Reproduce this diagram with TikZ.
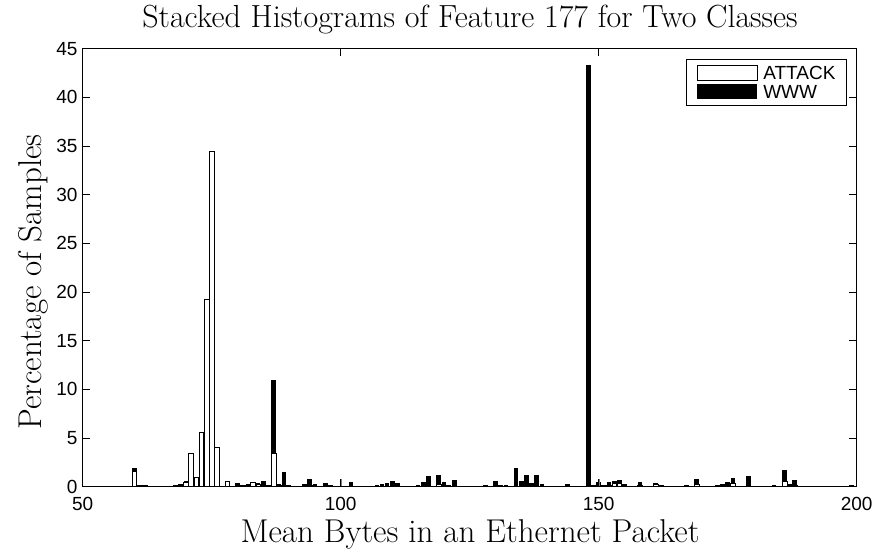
\documentclass[tikz,border=0pt]{standalone}
\usepackage{fontspec}
\newfontfamily\ticksf{Liberation Sans}
\usepackage{tikz}

\begin{document}
\begin{tikzpicture}[x=1pt, y=1pt, line width=.6]
    \useasboundingbox (0,0) rectangle (875,554);
    \tikzset{
        ticklab/.style={font=\ticksf\fontsize{19}{19}\selectfont, inner sep=0pt},
        axlab/.style={font=\fontsize{33}{33}\selectfont, inner sep=0pt},
        attackbar/.style={draw=black, fill=white, line width=.5},
        wwwbar/.style={fill=black}
    }
    % title and axis labels
    \node[axlab, font=\fontsize{32}{32}\selectfont, anchor=base] (title) at (470,526) {Stacked Histograms of Feature 177 for Two Classes};
    \node[axlab, anchor=base] (xlab) at (470,12) {Mean Bytes in an Ethernet Packet};
    \node[axlab, rotate=90, anchor=base] (ylab) at (42,272) {Percentage of Samples};
    % data area: 50..200 by 0..45
    \begin{scope}[x=5.16pt, y=9.733pt, shift={(-175.3pt,67.3pt)}]
        \foreach \v/\w/\b in {60/1.55/0.33, 61/0.1/0, 62/0.1/0, 65/0.05/0,
            68/0.1/0.1, 69/0.15/0.1, 70/0.5/0.05, 71/3.42/0, 72/0.96/0,
            73/5.58/0, 74/19.3/0, 75/34.5/0, 76/4.04/0, 78/0.58/0,
            80/0.05/0.3, 81/0.1/0.05, 82/0.15/0.1, 83/0.45/0.05, 84/0.3/0.1,
            85/0.1/0.45, 86/0.1/0.1, 87/3.42/7.58, 88/0.05/0.2, 89/0.2/1.3,
            90/0.05/0.1, 93/0.05/0.2, 94/0.15/0.6, 95/0.05/0.2, 97/0.05/0.33,
            98/0/0.15, 101/0/0.1, 102/0.05/0.4, 104/0/0.1, 105/0/0.1,
            107/0/0.15, 108/0.05/0.22, 109/0.05/0.3, 110/0.2/0.38, 111/0.05/0.3,
            112/0/0.1, 113/0/0.1, 115/0/0.15, 116/0.05/0.4, 117/0.05/1.0,
            118/0/0.1, 119/0.3/0.9, 120/0.15/0.35, 121/0/0.15, 122/0.1/0.55,
            123/0/0.1, 125/0/0.1, 127/0/0.1, 128/0/0.15, 129/0/0.1,
            130/0.2/0.38, 131/0/0.15, 132/0/0.15, 133/0/0.1, 134/0.05/1.9,
            135/0.05/0.57, 136/0.05/1.18, 137/0/0.38, 138/0.05/1.18, 139/0/0.3,
            140/0/0.1, 141/0/0.12, 142/0/0.12, 144/0/0.27, 145/0/0.08,
            148/0/43.3, 149/0/0.2, 150/0.1/0.4, 151/0.1/0.1, 152/0.1/0.38,
            153/0.4/0.2, 154/0.4/0.3, 155/0/0.3, 156/0/0.1, 158/0.1/0.35,
            159/0/0.1, 161/0.3/0.05, 162/0.1/0.05, 167/0/0.15, 169/0.3/0.49,
            172/0/0.1, 173/0/0.2, 174/0/0.3, 175/0.1/0.35, 176/0.4/0.46,
            179/0.2/0.9, 184/0/0.15, 186/0.6/1.15, 187/0/0.3, 188/0.1/0.55,
            189/0/0.1, 199/0/0.15} {
            \draw[attackbar] ({\v-0.45},0) rectangle ({\v+0.45},\w);
            \fill[wwwbar] ({\v-0.45},\w) rectangle ({\v+0.45},{\w+\b});
        }
        \draw[gray, line width=.4] (100,0) -- (100,0.8);
        \draw[gray, line width=.4] (150,0) -- (150,0.8);
        % axes box and ticks
        \draw (50,0) rectangle (200,45);
        \foreach \t in {50,100,150,200} {
            \draw (\t,0) -- ++(0,7.5pt);
            \draw (\t,45) -- ++(0,-7.5pt);
            \node[ticklab, anchor=north] (xt\t) at (\t,-10.5pt) {\t};
        }
        \foreach \t in {0,5,...,45} {
            \draw (50,\t) -- ++(7.5pt,0);
            \draw (200,\t) -- ++(-7.5pt,0);
            \node[ticklab, anchor=east] (yt\t) at (50,\t) [xshift=-5pt] {\t};
        }
    \end{scope}
    % legend
    \draw[line width=.5] (686,449) rectangle (846,495);
    \draw[attackbar] (697,474) rectangle (757,489);
    \fill[wwwbar] (697,455) rectangle (757,470);
    \node[ticklab, anchor=west] (attack) at (763,481.5) {ATTACK};
    \node[ticklab, anchor=west] (www) at (763,462.5) {WWW};
\end{tikzpicture}
\end{document}
